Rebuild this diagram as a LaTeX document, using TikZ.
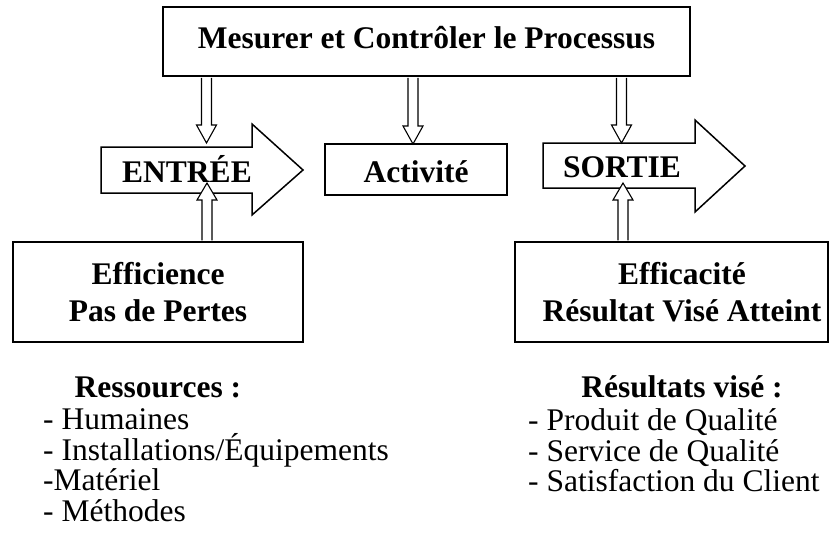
\documentclass[tikz,border=0pt]{standalone}
\usepackage{fontspec}
\setmainfont{Liberation Serif}
\usepackage{tikz}
\usetikzlibrary{calc}

\newcommand{\blockdown}[2]{%
  \draw[hollow] let \p1=(#1), \p2=(#2) in
    (\x1-5pt,\y1-1pt) -- (\x1-5pt,\y2+18pt) -- (\x1-10pt,\y2+18pt) -- (\x1,\y2)
    -- (\x1+10pt,\y2+18pt) -- (\x1+5pt,\y2+18pt) -- (\x1+5pt,\y1-1pt);}
\newcommand{\blockup}[2]{%
  \draw[hollow] let \p1=(#1), \p2=(#2) in
    (\x1-5pt,\y1+1pt) -- (\x1-5pt,\y2-17pt) -- (\x1-10pt,\y2-17pt) -- (\x1,\y2)
    -- (\x1+10pt,\y2-17pt) -- (\x1+5pt,\y2-17pt) -- (\x1+5pt,\y1+1pt);}

\begin{document}
\begin{tikzpicture}[x=1pt, y=-1pt,
	box/.style={draw, line width=1.5pt, inner sep=0pt},
	hollow/.style={draw, line width=1.1pt, fill=white, line join=miter},
	bigtxt/.style={font=\fontsize{31.5}{37}\selectfont\bfseries, align=center},
	listtxt/.style={font=\fontsize{31.5}{30.5}\selectfont, align=left, inner sep=0pt}]
	\useasboundingbox (0,0) rectangle (832,546);

	% top box
	\node[box, bigtxt, minimum width=527pt, minimum height=69pt, text height=22pt, text depth=9pt] (mesure) at (426.5,41.5) {Mesurer et Contrôler le Processus};

	% entree / sortie
	\draw[line width=1.5pt, line join=miter] (101,147) -- (252,147) -- (252,124) -- (303,170) -- (252,215) -- (252,193) -- (101,193) -- cycle;
	\node[bigtxt, anchor=base] (entree) at (187,182) {ENTRÉE};
	\draw[line width=1.5pt, line join=miter] (543,143) -- (695,143) -- (695,120) -- (745,166) -- (695,212) -- (695,188) -- (543,188) -- cycle;
	\node[bigtxt, anchor=base] (sortie) at (622,177) {SORTIE};

	\node[box, bigtxt, minimum width=182pt, minimum height=51pt, text height=26pt, text depth=0pt] (activite) at (416,169.5) {Activité};

	\node[box, bigtxt, minimum width=290pt, minimum height=100pt] (efficience) at (158,292) {Efficience\\Pas de Pertes};
	\node[box, minimum width=313pt, minimum height=100pt, label={[bigtxt, xshift=10.5pt]center:Efficacité\\Résultat Visé Atteint}] (efficacite) at (671.5,292) {};

	% arrow ends
	\coordinate (entree-in) at (206.5,143);
	\coordinate (activite-in) at (413,144);
	\coordinate (sortie-in) at (621.5,143);
	\coordinate (entree-up) at (207,183);
	\coordinate (sortie-up) at (623,183);

	\blockdown{mesure.south -| entree-in}{entree-in}
	\blockdown{mesure.south -| activite-in}{activite-in}
	\blockdown{mesure.south -| sortie-in}{sortie-in}
	\blockup{efficience.north -| entree-up}{entree-up}
	\blockup{efficacite.north -| sortie-up}{sortie-up}

	% lists
	\node[bigtxt, anchor=base] (ressources) at (158,397) {Ressources :};
	\node[listtxt, anchor=north west] (ressliste) at (43,408.5) {- Humaines\\- Installations/Équipements\\-Matériel\\- Méthodes};
	\node[bigtxt, anchor=base] (resultats) at (682,397) {Résultats visé :};
	\node[listtxt, anchor=north west] (resliste) at (528,408.5) {- Produit de Qualité\\- Service de Qualité\\- Satisfaction du Client};
\end{tikzpicture}
\end{document}
